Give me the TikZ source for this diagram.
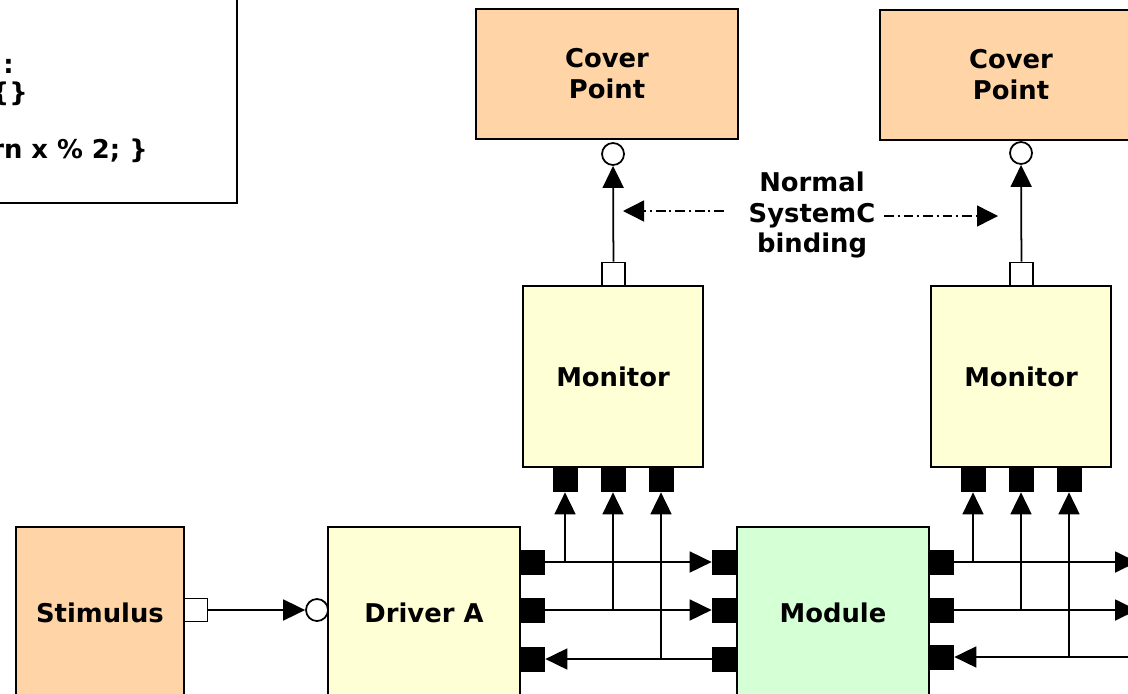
\documentclass[tikz,border=0pt]{standalone}
\usepackage{fontspec}
\setmainfont{DejaVu Sans}
\usetikzlibrary{arrows.meta}
\definecolor{peach}{HTML}{FFD5A8}
\definecolor{paleyellow}{HTML}{FFFFD5}
\definecolor{palegreen}{HTML}{D5FFD5}

\tikzset{
  every node/.style={font=\fontsize{14.7}{17.6}\selectfont\bfseries},
  blk/.style={draw, line width=1pt, align=center, inner sep=0pt},
  wport/.style={draw, line width=1pt, fill=white, minimum size=0.46cm, inner sep=0pt},
  bport/.style={fill=black, minimum size=0.5cm, inner sep=0pt},
  plug/.style={draw, circle, line width=1pt, fill=white, minimum size=0.44cm, inner sep=0pt},
  conn/.style={line width=1pt, -{Triangle[length=0.44cm,width=0.42cm]}},
  dotdash/.style={line width=0.8pt, dash pattern=on 5.5pt off 2.2pt on 1.2pt off 2.2pt,
    -{Triangle[length=0.42cm,width=0.42cm]}}
}

\begin{document}
\begin{tikzpicture}[x=0.02cm,y=-0.02cm]
		\useasboundingbox (0,0) rectangle (1128,693);
		% code box (cut off)
		\node[blk, minimum width=10.8cm, minimum height=5.2cm, anchor=south east] (code) at (238,204) {};
		\node[anchor=base east, inner sep=0] (code1) at (14,73) {:};
		\node[anchor=base east, inner sep=0] (code2) at (28,101) {\{\}};
		\node[anchor=base east, inner sep=0] (code3) at (148,158) {rn x \% 2; \}};
		% blocks
		\node[blk, fill=peach, minimum width=5.24cm, minimum height=2.6cm] (cov1) at (607,74) {Cover\\Point};
		\node[blk, fill=peach, minimum width=5.24cm, minimum height=2.6cm] (cov2) at (1011,75) {Cover\\Point};
		\node[blk, fill=paleyellow, minimum width=3.6cm, minimum height=3.62cm] (mon1) at (613,376.5) {Monitor};
		\node[blk, fill=paleyellow, minimum width=3.6cm, minimum height=3.62cm] (mon2) at (1021,376.5) {Monitor};
		\node[blk, fill=peach, minimum width=3.36cm, minimum height=3.44cm] (stim) at (100,613) {Stimulus};
		\node[blk, fill=paleyellow, minimum width=3.84cm, minimum height=3.44cm] (drv) at (424,613) {Driver A};
		\node[blk, fill=palegreen, minimum width=3.84cm, minimum height=3.44cm] (mod) at (833,613) {Module};
		% ports
		\node[plug] (cov1C) at (613,154) {};
		\node[plug] (cov2C) at (1021,153) {};
		\node[wport] (mon1T) at (613.5,274) {};
		\node[wport] (mon2T) at (1021.5,274) {};
		\node[wport] (stimP) at (196,610) {};
		\node[plug] (drvC) at (317,610) {};
		\foreach \i/\x in {1/565,2/613,3/661} \node[bport] (m1P\i) at (\x,479.5) {};
		\foreach \i/\x in {1/973,2/1021,3/1069} \node[bport] (m2P\i) at (\x,479.5) {};
		\foreach \i/\y in {1/562,2/610,3/659} {
			\node[bport] (drvP\i) at (532.5,\y) {};
			\node[bport] (modL\i) at (724.5,\y) {};
		}
		\foreach \i/\y in {1/562,2/610,3/657} \node[bport] (modR\i) at (941.5,\y) {};
		% connections
		\draw[conn] (stimP) -- (drvC);
		\draw[conn] (mon1T) -- (cov1C);
		\draw[conn] (mon2T) -- (cov2C);
		\draw[conn] (drvP1) -- (modL1);
		\draw[conn] (drvP2) -- (modL2);
		\draw[conn] (modL3) -- (drvP3);
		\foreach \i in {1,2,3} {
			\draw[conn] (m1P\i.south |- drvP\i.east) -- (m1P\i);
			\draw[conn] (m2P\i.south |- modR\i.east) -- (m2P\i);
		}
		\coordinate (out1) at (1137,562);
		\coordinate (out2) at (1137,610);
		\coordinate (in3) at (1140,657);
		\draw[conn] (modR1) -- (out1);
		\draw[conn] (modR2) -- (out2);
		\draw[conn] (in3) -- (modR3);
		% binding note
		\node[align=center] (bind) at (812,215) {Normal\\SystemC\\binding};
		\coordinate (bindL) at (724,211);
		\coordinate (tipL) at (623,211);
		\coordinate (bindR) at (884,216);
		\coordinate (tipR) at (998,216);
		\draw[dotdash] (bindL) -- (tipL);
		\draw[dotdash] (bindR) -- (tipR);
	\end{tikzpicture}
\end{document}
